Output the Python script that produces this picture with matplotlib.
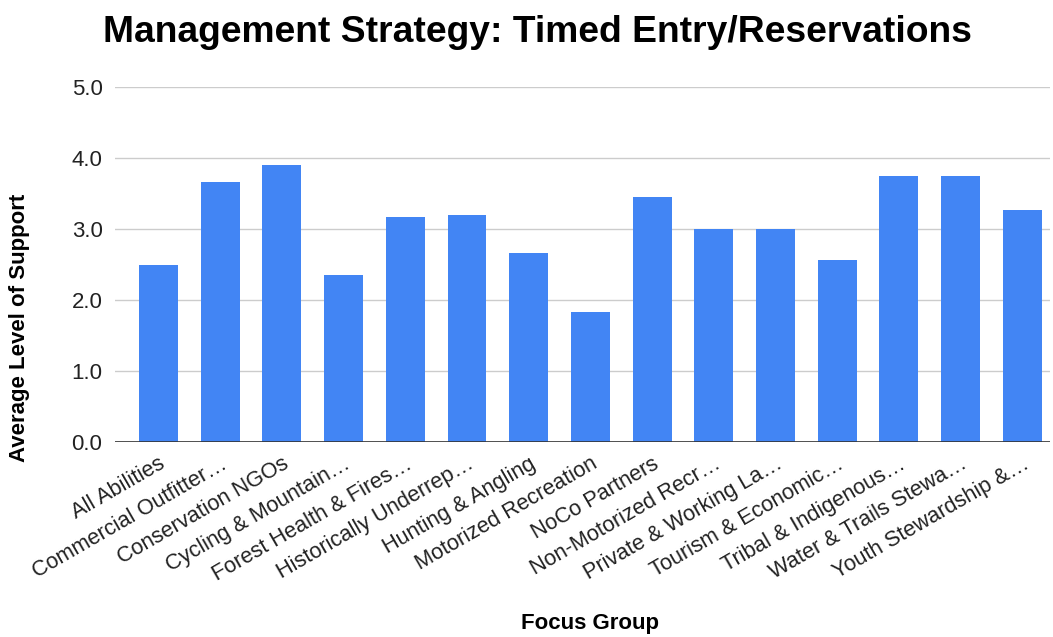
import matplotlib.pyplot as plt

groups = [
    "All Abilities", "Commercial Outfitter…", "Conservation NGOs",
    "Cycling & Mountain…", "Forest Health & Fires…", "Historically Underrep…",
    "Hunting & Angling", "Motorized Recreation", "NoCo Partners",
    "Non-Motorized Recr…", "Private & Working La…", "Tourism & Economic…",
    "Tribal & Indigenous…", "Water & Trails Stewa…", "Youth Stewardship &…",
]
support = [2.50, 3.67, 3.90, 2.36, 3.17, 3.20, 2.67, 1.84, 3.45,
           3.00, 3.00, 2.57, 3.75, 3.75, 3.27]
y_ticks = [0.0, 1.0, 2.0, 3.0, 4.0, 5.0]

plt.rcParams["font.family"] = ["Liberation Sans", "DejaVu Sans"]

fig = plt.figure(figsize=(10.53, 6.37), dpi=100)
ax = fig.add_axes([0.1092, 0.3056, 0.888, 0.5578])

x = list(range(len(groups)))
ax.bar(x, support, width=0.63, color="#4285F4", zorder=3)

ax.set_xlim(-0.705, 14.45)
ax.set_ylim(0, 5)
ax.set_yticks(y_ticks)
ax.set_yticklabels([f"{v:.1f}" for v in y_ticks], fontsize=16, color="#222222")
ax.grid(axis="y", color="#cccccc", linewidth=1, zorder=0)
ax.axhline(0, color="#333333", linewidth=1.2, zorder=4)

ax.set_xticks(x)
ax.set_xticklabels(groups, rotation=30, ha="right", rotation_mode="anchor",
                   fontsize=15.7, color="#222222")
ax.tick_params(axis="x", length=0, pad=8)
ax.tick_params(axis="y", length=0, pad=9)

for s in ax.spines.values():
    s.set_visible(False)

fig.text(20 / 1053, 1 - 328 / 637, "Average Level of Support", fontsize=16,
         fontweight="bold", rotation=90, ha="center", va="center")
fig.text(590 / 1053, 1 - 624 / 637, "Focus Group", fontsize=16,
         fontweight="bold", ha="center", va="center")
fig.text(537 / 1053, 1 - 33 / 637, "Management Strategy: Timed Entry/Reservations",
         fontsize=26.8, fontweight="bold", ha="center", va="center")

fig.savefig("out.png", dpi=100)
